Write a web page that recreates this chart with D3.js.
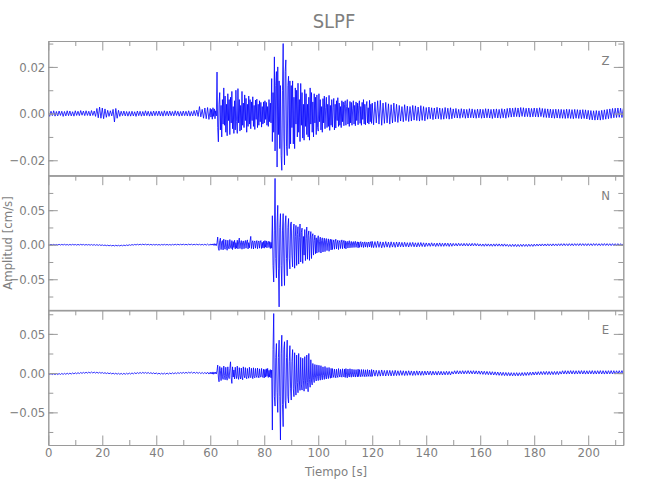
<!DOCTYPE html>
<html><head><meta charset="utf-8">
<script src="https://cdn.jsdelivr.net/npm/d3@7"></script>
<style>body{margin:0;background:#fff}</style>
</head><body><svg id="c" width="650" height="500"></svg>
<script>
// ---------------- data ----------------
const title = "SLPF";
const xLabel = "Tiempo [s]";
const yLabel = "Amplitud [cm/s]";
const components = ["Z", "N", "E"];
const timeDomain = [0, 213];
const xMajorTicks = [0, 20, 40, 60, 80, 100, 120, 140, 160, 180, 200];
const xMinorTicks = [10, 30, 50, 70, 90, 110, 130, 150, 170, 190, 210];
const valueUnit = 1e-4;          // all samples below are in 1e-4 cm/s

// three record segments: [start time (s), sample step (s)]
const preSegment  = [0, 0.5];    // 0 – 60 s
const mainSegment = [60, 0.25];  // 60 – 120 s
const postSegment = [120, 0.5];  // 120 – 213 s

const zPre = [
 8,-12,10,-9,12,-11,9,-10,11,-8,10,-12,9,-10,12,-9,11,-10,8,-11,
 12,-8,10,-9,13,-7,11,-9,12,-8,10,-10,13,-8,11,-12,22,-18,28,-20,
 24,-22,20,-16,14,-12,12,-10,18,-36,22,-20,14,-12,10,-9,11,-10,9,-11,
 9,-11,10,-10,8,-12,11,-9,10,-11,9,-10,12,-9,10,-11,9,-10,11,-9,
 10,-9,11,-10,9,-11,12,-9,10,-10,11,-9,9,-10,12,-8,10,-11,9,-10,
 11,-9,10,-10,12,-11,9,-10,13,-9,15,-12,30,-14,18,-20,24,-22,26,-25
];
const zMain = [
 22,-15,18,-24,25,-12,20,-22,12,-10,178,-60,-121,40,90,-70,35,-100,60,-45,
 110,-50,75,-80,40,-95,85,-30,60,-90,70,-40,95,-65,30,-85,55,-70,100,-35,
 -85,107,-40,60,-75,35,-70,95,-50,45,-60,80,-30,65,-80,40,-55,75,-45,60,
 -65,50,-30,72,-55,35,-68,58,-25,62,-60,40,-50,55,-35,48,-58,30,-45,50,
 -40,55,-25,48,-50,30,-55,60,-35,45,-40,150,-120,90,-80,243,-160,120,180,-229,
 200,-90,140,-150,120,-180,-243,100,300,-100,-220,180,230,-140,-180,120,160,-150,140,-130,
 120,-60,140,-130,70,-150,110,-45,100,-100,130,-80,60,-120,129,-50,90,-105,40,-114,
 103,-55,85,-90,40,-100,70,-114,110,-45,90,-80,50,-100,85,-40,70,-90,80,-60,
 -75,85,-35,60,-70,30,-80,64,-40,75,-65,25,70,-60,40,-55,78,-72,35,-50,
 60,-58,25,65,-70,40,-62,55,-30,68,-55,45,-50,30,-60,55,-35,50,-52,40,
 55,-50,30,60,-45,25,-55,52,-40,48,-50,20,55,-45,35,-52,50,-30,45,-48,
 35,55,-42,30,-50,48,-25,60,-45,40,-48,30,52,-40,25,-45,57,-35,40,-42
];
const zPost = [
 45,-48,50,-40,55,-45,57,-50,45,-42,48,-40,42,-45,38,-40,45,-35,40,-38,
 35,-32,30,-35,38,-30,32,-34,30,-32,35,-28,33,-30,28,-32,34,-29,30,-31,
 26,-24,28,-22,25,-26,24,-23,27,-22,24,-25,22,-24,26,-21,23,-24,25,-22,
 20,-18,22,-19,18,-20,21,-17,19,-20,18,-19,21,-18,20,-19,17,-20,19,-18,
 19,-20,18,-19,21,-18,20,-19,18,-21,19,-18,20,-19,18,-20,21,-18,19,-20,
 22,-16,24,-15,23,-14,25,-13,24,-15,26,-12,25,-14,23,-13,24,-15,22,-14,
 24,-14,23,-15,25,-13,22,-16,21,-17,20,-18,19,-19,18,-20,19,-19,18,-20,
 18,-20,17,-21,19,-20,18,-21,17,-22,18,-20,17,-21,16,-22,17,-21,16,-23,
 14,-26,13,-27,12,-28,13,-27,12,-28,14,-26,16,-24,18,-22,20,-20,22,-18,
 23,-17,24,-16,23,-17,22
];

const nPre = [
 5,-5,6,-4,5,-6,4,-5,6,-5,5,-4,6,-5,4,-6,5,-5,6,-4,
 4,-6,5,-5,6,-4,5,-6,4,-5,3,-7,4,-8,3,-9,2,-10,1,-11,
 -2,-12,-4,-14,-6,-16,-7,-17,-8,-18,-7,-17,-8,-18,-6,-16,-5,-14,-3,-12,
 0,-9,3,-6,5,-4,7,-3,8,-2,9,-2,8,-3,7,-4,6,-5,5,-5,
 5,-5,4,-6,5,-5,6,-4,5,-5,4,-6,6,-4,7,-3,8,-3,7,-2,
 8,-2,7,-3,9,-2,8,-3,7,-2,8,-3,7,-4,6,-5,8,-6,10,-8
];
const nMain = [
 8,-6,10,-5,12,-8,15,-10,12,-12,30,111,-50,-82,60,95,-70,40,60,-75,
 80,-40,-65,70,-30,-80,65,-50,-60,75,-35,-55,60,-70,45,-40,65,-60,30,-50,
 65,-60,40,97,-55,30,60,-65,35,55,-58,25,62,-50,40,70,-60,30,-45,55,
 121,-55,30,58,-62,35,55,-50,25,60,-58,30,55,-50,40,60,-55,35,-45,50,
 -50,60,-35,55,-45,30,50,-40,45,-55,35,-50,420,-300,-540,200,960,-200,-480,300,
 570,-350,-900,250,450,-300,-600,200,450,-250,-590,300,420,-200,-450,250,380,-200,-350,300,
 330,-150,-320,200,300,-340,120,280,-300,150,260,-280,100,300,-250,180,240,-270,120,-150,
 220,-230,90,256,-210,130,200,-227,80,190,-200,120,160,-150,60,140,-130,100,-120,70,
 130,-110,50,110,-120,60,100,-105,40,95,-100,55,90,-85,30,85,-95,50,80,-75,
 75,-70,30,70,-65,40,80,-60,25,65,-70,35,60,-55,30,70,-58,40,62,-50,
 55,-60,25,50,-48,30,58,-45,20,48,-42,25,45,-40,30,50,-38,20,42,-45,
 40,-38,20,45,-35,25,38,-40,15,42,-34,20,36,-38,25,40,-32,18,45,-40
];
const nPost = [
 48,-42,45,-40,50,-38,42,-45,40,-38,45,-35,38,-40,42,-34,36,-38,40,-32,
 38,-30,34,-32,36,-28,30,-33,32,-26,34,-30,28,-32,30,-27,32,-26,28,-30,
 26,-22,24,-24,28,-20,22,-26,24,-22,26,-24,22,-23,24,-21,23,-25,22,-22,
 20,-17,19,-19,21,-16,18,-18,20,-17,19,-19,18,-18,20,-16,19,-17,16,-19,
 12,-21,11,-22,13,-20,12,-21,11,-22,12,-21,13,-20,12,-21,11,-22,12,-21,
 6,-25,5,-26,7,-25,6,-27,5,-26,6,-25,7,-24,6,-25,8,-23,7,-24,
 9,-20,10,-19,11,-18,12,-17,11,-18,13,-16,12,-17,13,-15,12,-16,14,-14,
 15,-14,16,-13,14,-15,16,-13,15,-14,16,-12,15,-13,17,-12,16,-13,15,-14,
 16,-12,15,-13,17,-11,16,-12,15,-13,16,-12,17,-11,16,-12,15,-13,16,-12,
 15,-13,16,-12,15,-13,16
];

const ePre = [
 -5,-17,-6,-18,-7,-19,-6,-18,-5,-17,-4,-16,-3,-15,-1,-13,0,-12,2,-10,
 4,-8,6,-6,8,-4,10,-2,12,-1,13,0,14,1,13,0,12,-1,10,-2,
 8,-4,6,-6,4,-8,2,-10,0,-12,-1,-14,-2,-15,-3,-16,-2,-15,-1,-14,
 1,-12,3,-10,5,-8,7,-5,9,-4,10,-3,9,-4,8,-5,6,-7,4,-9,
 2,-11,0,-13,-1,-14,0,-13,1,-12,2,-10,4,-9,5,-7,7,-5,8,-4,
 10,-3,11,-2,12,-1,13,-2,12,-3,11,-4,9,-6,8,-8,10,-10,12,-12
];
const eMain = [
 12,-10,8,-12,15,-14,10,-8,12,-10,30,102,-50,-110,85,30,-95,70,-40,-80,
 90,-30,-85,75,-45,-90,80,-35,-70,60,144,-60,-131,80,-50,40,-75,75,-30,-70,
 89,-40,-80,70,-35,-75,65,-50,-85,80,-30,-60,70,-45,-72,60,-30,-65,75,-40,
 -58,62,-30,-70,68,-45,-60,60,-35,-55,65,-30,-60,55,-45,-50,60,-40,-55,50,
 -60,45,-50,55,-40,60,-55,35,-50,45,-60,40,-725,300,759,-300,-420,200,377,-250,
 -500,200,420,-300,-852,250,483,-400,-682,300,400,-350,-450,200,420,-300,-380,150,350,-200,
 -343,150,300,-200,-300,260,-150,-280,230,-120,-250,250,-100,-220,200,-150,-216,190,-90,-230,
 210,-100,-200,230,-120,-237,250,-80,-180,170,-100,-150,123,-60,-120,110,-50,-100,105,-40,
 -95,100,-40,-90,95,-35,-85,80,-30,-80,85,-40,-75,70,-25,-70,72,-30,-65,60,
 -60,58,-20,-55,52,-25,-60,50,-30,-55,58,-20,-50,48,-25,-52,55,-30,-48,50,
 -55,58,-20,-60,52,-25,-50,56,-15,-52,50,-20,-48,46,-18,-50,45,-20,-48,50,
 -45,44,-15,-47,46,-20,-43,45,-15,-46,42,-18,-44,45,-20,-42,40,-15,-44,46
];
const ePost = [
 -42,40,-38,36,-40,35,-38,40,-35,34,-37,36,-33,35,-36,32,-34,35,-32,30,
 -30,32,-28,30,-31,28,-29,30,-27,28,-30,26,-28,29,-26,27,-28,25,-27,26,
 -24,26,-22,25,-26,24,-23,22,-25,24,-22,23,-24,21,-22,24,-21,22,-23,20,
 -12,30,-10,31,-11,29,-9,31,-10,30,-8,32,-9,30,-10,31,-11,29,-12,28,
 -14,26,-16,24,-18,22,-20,20,-22,18,-24,16,-26,14,-28,12,-30,10,-32,8,
 -33,7,-34,6,-35,5,-34,6,-35,5,-33,7,-32,8,-30,10,-28,12,-26,14,
 -24,16,-22,18,-20,20,-19,21,-18,22,-19,21,-20,20,-19,21,-18,22,-19,21,
 -12,30,-11,31,-12,30,-10,32,-11,31,-12,30,-11,31,-10,32,-11,31,-12,30,
 -11,31,-10,32,-12,30,-11,31,-10,32,-11,31,-12,30,-11,31,-10,32,-11,31,
 -12,30,-11,31,-10,32,-11
];

const zDomain = [-0.0266, 0.0311];
const nDomain = [-0.095, 0.100];
const eDomain = [-0.0916, 0.080];
const zMajorTicks = [-0.02, 0, 0.02];
const zMinorTicks = [-0.02, -0.01, 0, 0.01, 0.02, 0.03];
const nMajorTicks = [-0.05, 0, 0.05];
const nMinorTicks = [-0.075, -0.05, -0.025, 0, 0.025, 0.05, 0.075];
const eMajorTicks = [-0.05, 0, 0.05];
const eMinorTicks = [-0.075, -0.05, -0.025, 0, 0.025, 0.05, 0.075];

// ---------------- drawing ----------------
function toPoints(segment, values) {
  return values.map((v, k) => [segment[0] + k * segment[1], v * valueUnit]);
}
function series(pre, main, post) {
  return toPoints(preSegment, pre).concat(toPoints(mainSegment, main), toPoints(postSegment, post));
}

const panels = [
  {name: components[0], pts: series(zPre, zMain, zPost), domain: zDomain, major: zMajorTicks, minor: zMinorTicks},
  {name: components[1], pts: series(nPre, nMain, nPost), domain: nDomain, major: nMajorTicks, minor: nMinorTicks},
  {name: components[2], pts: series(ePre, eMain, ePost), domain: eDomain, major: eMajorTicks, minor: eMinorTicks}
];

const plotLeft = 48.3, plotRight = 623.3, plotTop = 41, panelH = 134.67;
const axisColor = "#9a9a9a", textColor = "#7f7f7f";
const font = "'Liberation Sans Narrow','DejaVu Sans Condensed','Liberation Sans',sans-serif";
const majorLen = 9.5, minorLen = 5;

const svg = d3.select("#c");
const x = d3.scaleLinear().domain(timeDomain).range([plotLeft, plotRight]);
const fmt = d3.format(".2f");

function styleAxis(g) {
  g.select(".domain").attr("stroke", axisColor).attr("stroke-width", 1);
  g.selectAll(".tick line").attr("stroke", axisColor).attr("stroke-width", 1);
  g.selectAll(".tick text").attr("fill", textColor).attr("font-family", font).attr("font-size", 13);
}

panels.forEach((p, i) => {
  const y0 = plotTop + i * panelH, y1 = y0 + panelH;
  const y = d3.scaleLinear().domain(p.domain).range([y1, y0]);

  const clipId = "clip" + i;
  svg.append("clipPath").attr("id", clipId)
    .append("rect").attr("x", plotLeft).attr("y", y0).attr("width", plotRight - plotLeft).attr("height", panelH);

  const line = d3.line().x(d => x(d[0])).y(d => y(d[1]));
  svg.append("path").datum(p.pts)
    .attr("clip-path", `url(#${clipId})`)
    .attr("d", line)
    .attr("fill", "none")
    .attr("stroke", "#0000ff")
    .attr("stroke-width", 0.8)
    .attr("stroke-linejoin", "round");

  // left axis
  svg.append("g").attr("transform", `translate(${plotLeft},0)`)
    .call(d3.axisLeft(y).tickValues(p.minor).tickSize(-minorLen).tickSizeOuter(0).tickFormat(""))
    .call(styleAxis);
  svg.append("g").attr("transform", `translate(${plotLeft},0)`)
    .call(d3.axisLeft(y).tickValues(p.major).tickSize(-majorLen).tickSizeOuter(0).tickPadding(3).tickFormat(fmt))
    .call(styleAxis);
  // right axis
  svg.append("g").attr("transform", `translate(${plotRight},0)`)
    .call(d3.axisRight(y).tickValues(p.minor).tickSize(-minorLen).tickSizeOuter(0).tickFormat(""))
    .call(styleAxis);
  svg.append("g").attr("transform", `translate(${plotRight},0)`)
    .call(d3.axisRight(y).tickValues(p.major).tickSize(-majorLen).tickSizeOuter(0).tickFormat(""))
    .call(styleAxis);
  // top axis (ticks point down into the panel)
  svg.append("g").attr("transform", `translate(0,${y0})`)
    .call(d3.axisTop(x).tickValues(xMinorTicks).tickSize(-minorLen).tickSizeOuter(0).tickFormat(""))
    .call(styleAxis);
  svg.append("g").attr("transform", `translate(0,${y0})`)
    .call(d3.axisTop(x).tickValues(xMajorTicks).tickSize(-majorLen).tickSizeOuter(0).tickFormat(""))
    .call(styleAxis);
  // bottom axis
  if (i === panels.length - 1) {
    svg.append("g").attr("transform", `translate(0,${y1})`)
      .call(d3.axisBottom(x).tickValues(xMinorTicks).tickSize(-minorLen).tickSizeOuter(0).tickFormat(""))
      .call(styleAxis);
    svg.append("g").attr("transform", `translate(0,${y1})`)
      .call(d3.axisBottom(x).tickValues(xMajorTicks).tickSize(-majorLen).tickSizeOuter(0).tickPadding(3).tickFormat(d3.format("d")))
      .call(styleAxis);
  } else {
    svg.append("line").attr("x1", plotLeft).attr("x2", plotRight).attr("y1", y1).attr("y2", y1)
      .attr("stroke", axisColor);
  }

  svg.append("text").attr("x", 605.5).attr("y", y0 + 24)
    .attr("text-anchor", "middle").attr("fill", textColor)
    .attr("font-family", font).attr("font-size", 13).text(p.name);
});

svg.append("text").attr("x", 334).attr("y", 28).attr("text-anchor", "middle")
  .attr("fill", textColor).attr("font-family", font).attr("font-size", 20).text(title);
svg.append("text").attr("x", 336).attr("y", 476).attr("text-anchor", "middle")
  .attr("fill", textColor).attr("font-family", font).attr("font-size", 13).text(xLabel);
svg.append("text").attr("transform", "translate(12,243) rotate(-90)").attr("text-anchor", "middle")
  .attr("fill", textColor).attr("font-family", font).attr("font-size", 13).text(yLabel);
</script></body></html>
